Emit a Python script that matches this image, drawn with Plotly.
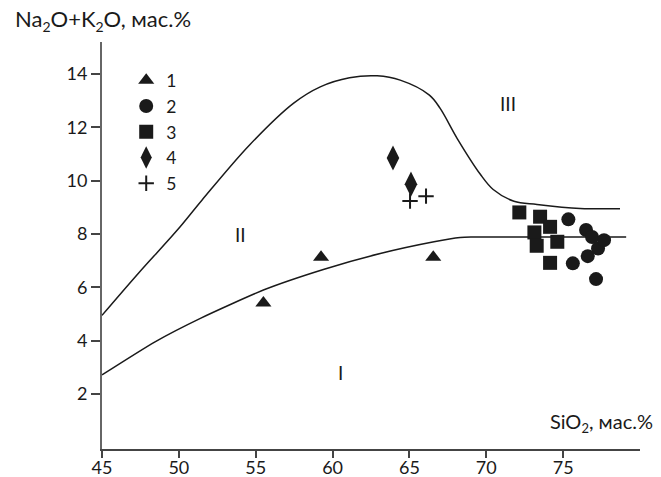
import plotly.graph_objects as go

# ---- data ----
tri_x = [55.5, 59.25, 66.55]
tri_y = [5.41, 7.13, 7.13]

circ_x = [75.34, 76.49, 76.88, 77.27, 77.66, 76.60, 75.63, 77.14]
circ_y = [8.55, 8.15, 7.89, 7.46, 7.77, 7.17, 6.90, 6.31]

sq_x = [72.15, 73.50, 74.15, 73.13, 73.28, 74.62, 74.15]
sq_y = [8.81, 8.65, 8.27, 8.06, 7.56, 7.71, 6.92]

dia_x = [63.93, 65.10]
dia_y = [10.85, 9.87]

plus_x = [65.04, 66.08]
plus_y = [9.24, 9.42]

upper_x = [45.0, 47.4, 49.9, 51.5, 54.6, 57.45, 59.2, 61.1, 62.9,
           64.4, 66.3, 67.0, 68.1, 69.6, 70.45, 71.8, 73.3, 76.1, 78.7]
upper_y = [4.95, 6.55, 8.15, 9.27, 11.34, 12.9, 13.52, 13.86, 13.93,
           13.77, 13.21, 12.71, 11.59, 10.25, 9.67, 9.23, 9.11, 8.96, 8.95]

lower_x = [45.0, 48.45, 51.4, 55.5, 59.4, 63.1, 66.6, 68.3, 69.0, 79.1]
lower_y = [2.72, 3.96, 4.84, 5.90, 6.67, 7.27, 7.71, 7.87, 7.89, 7.89]

field_labels = ["I", "II", "III"]
field_x = [60.5, 54.0, 71.4]
field_y = [2.8, 8.0, 12.9]

legend_names = ["1", "2", "3", "4", "5"]
x_ticks = [45, 50, 55, 60, 65, 70, 75]
y_ticks = [2, 4, 6, 8, 10, 12, 14]

FONT = "Lato, 'Open Sans', sans-serif"
INK = "#1a1a1a"


def sub2(px):
    return "<sub><span style='font-size:%dpx'>2</span></sub>" % px


fig = go.Figure()

fig.add_trace(go.Scatter(x=upper_x, y=upper_y, mode="lines", showlegend=False,
                         line=dict(color=INK, width=1.5, shape="spline", smoothing=1.0),
                         hoverinfo="skip"))
fig.add_trace(go.Scatter(x=lower_x, y=lower_y, mode="lines", showlegend=False,
                         line=dict(color=INK, width=1.5, shape="spline", smoothing=0.6),
                         hoverinfo="skip"))

fig.add_trace(go.Scatter(x=tri_x, y=tri_y, mode="markers", name=legend_names[0],
                         marker=dict(symbol="triangle-up", size=14, color=INK)))
fig.add_trace(go.Scatter(x=circ_x, y=circ_y, mode="markers", name=legend_names[1],
                         marker=dict(symbol="circle", size=14, color=INK)))
fig.add_trace(go.Scatter(x=sq_x, y=sq_y, mode="markers", name=legend_names[2],
                         marker=dict(symbol="square", size=14, color=INK)))
fig.add_trace(go.Scatter(x=dia_x, y=dia_y, mode="markers", name=legend_names[3],
                         marker=dict(symbol="diamond-tall", size=18, color=INK)))
fig.add_trace(go.Scatter(x=plus_x, y=plus_y, mode="markers", name=legend_names[4],
                         marker=dict(symbol="cross-thin", size=11, color=INK,
                                     line=dict(color=INK, width=2))))

for t, x, y in zip(field_labels, field_x, field_y):
    fig.add_annotation(x=x, y=y, text=t, showarrow=False,
                       font=dict(family=FONT, size=19, color=INK))

fig.add_annotation(xref="paper", yref="paper", x=-0.166, y=1.0, yshift=22,
                   xanchor="left", yanchor="middle", showarrow=False,
                   text="Na" + sub2(14) + "O+K" + sub2(14) + "O, мас.%",
                   font=dict(family=FONT, size=22, color=INK))
fig.add_annotation(xref="paper", yref="paper", x=1.028, y=0.0, yshift=27,
                   xanchor="right", yanchor="middle", showarrow=False,
                   text="SiO" + sub2(13) + ", мас.%",
                   font=dict(family=FONT, size=20, color=INK))

fig.update_layout(
    width=661, height=477,
    margin=dict(l=102, r=21, t=42, b=28),
    paper_bgcolor="white", plot_bgcolor="white",
    font=dict(family=FONT, size=18, color=INK),
    legend=dict(x=0.045, y=0.95, xanchor="left", yanchor="top",
                bgcolor="rgba(0,0,0,0)", font=dict(family=FONT, size=17.5, color=INK),
                itemsizing="trace", tracegroupgap=0),
    xaxis=dict(range=[45, 80], tickvals=x_ticks, showgrid=False, zeroline=False,
               showline=True, linecolor="#444", linewidth=1.6, automargin=False,
               ticks="outside", ticklen=7, tickcolor="#444", tickwidth=1.5,
               ticklabelstandoff=-5,
               tickfont=dict(family=FONT, size=18, color=INK)),
    yaxis=dict(range=[-0.06, 15.2], tickvals=y_ticks, showgrid=False, zeroline=False,
               showline=True, linecolor="#666", linewidth=1.8, automargin=False,
               ticks="outside", ticklen=9, tickcolor="#444", tickwidth=1.5,
               tickfont=dict(family=FONT, size=18, color=INK)),
)

fig.write_html("out.html")
